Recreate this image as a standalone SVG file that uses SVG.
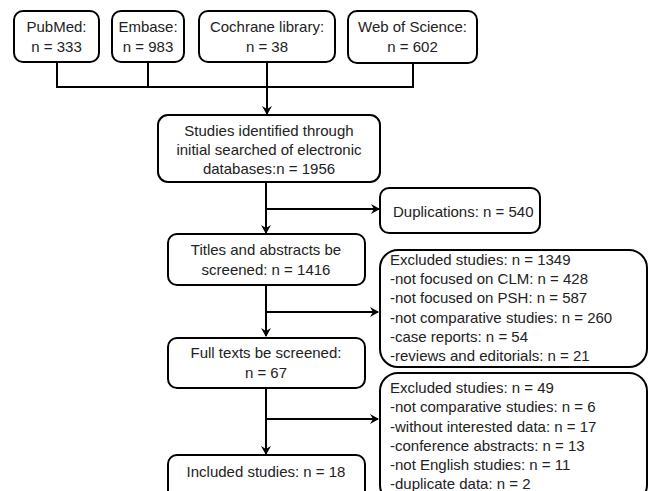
<svg xmlns="http://www.w3.org/2000/svg" width="651" height="491" viewBox="0 0 651 491">
<defs>
<style>
.box{fill:#fff;stroke:#000;stroke-width:2}
.t{font-family:"Liberation Sans",Arial,sans-serif;font-size:15px;fill:#222}
.c{text-anchor:middle}
.ln{fill:none;stroke:#000;stroke-width:2}
</style>
<marker id="ah" markerWidth="10" markerHeight="10" refX="8" refY="5" orient="auto" markerUnits="userSpaceOnUse">
<path d="M0,0 L9,5 L0,10 L3,5 Z" fill="#000"/>
</marker>
</defs>
<rect width="651" height="491" fill="#fff"/>
<g id="connectors">
<polyline class="ln" points="57,62 57,87 413,87 413,62"/>
<line class="ln" x1="148" y1="62" x2="148" y2="87"/>
<line class="ln" x1="267" y1="62" x2="267" y2="114" marker-end="url(#ah)"/>
<line class="ln" x1="266" y1="182" x2="266" y2="233" marker-end="url(#ah)"/>
<line class="ln" x1="266" y1="209" x2="379" y2="209" marker-end="url(#ah)"/>
<line class="ln" x1="266" y1="285" x2="266" y2="336" marker-end="url(#ah)"/>
<line class="ln" x1="266" y1="312" x2="378" y2="312" marker-end="url(#ah)"/>
<line class="ln" x1="266" y1="388" x2="266" y2="454" marker-end="url(#ah)"/>
<line class="ln" x1="266" y1="419" x2="378" y2="419" marker-end="url(#ah)"/>
</g>
<g id="pubmed"><rect class="box" x="14" y="11" width="85" height="51" rx="9"/>
<text class="t c" x="56.5" y="32">PubMed:</text><text class="t c" x="56.5" y="52">n = 333</text></g>
<g id="embase"><rect class="box" x="112" y="11" width="72" height="51" rx="9"/>
<text class="t c" x="148" y="32">Embase:</text><text class="t c" x="148" y="52">n = 983</text></g>
<g id="cochrane"><rect class="box" x="199" y="11" width="136" height="51" rx="9"/>
<text class="t c" x="267" y="32">Cochrane library:</text><text class="t c" x="267" y="52">n = 38</text></g>
<g id="wos"><rect class="box" x="348" y="11" width="129" height="52" rx="9"/>
<text class="t c" x="412.5" y="32">Web of Science:</text><text class="t c" x="412.5" y="52">n = 602</text></g>
<g id="identified"><rect class="box" x="158" y="115" width="222" height="67" rx="10"/>
<text class="t c" x="269" y="136">Studies identified through</text>
<text class="t c" x="269" y="155">initial searched of electronic</text>
<text class="t c" x="269" y="174">databases:n = 1956</text></g>
<g id="duplications"><rect class="box" x="380" y="188" width="160" height="45" rx="9"/>
<text class="t" x="393" y="217">Duplications: n = 540</text></g>
<g id="titles"><rect class="box" x="168" y="234" width="197" height="51" rx="9"/>
<text class="t c" x="266" y="255">Titles and abstracts be</text>
<text class="t c" x="266" y="275">screened: n = 1416</text></g>
<g id="excluded1"><rect class="box" x="380" y="250" width="267" height="117" rx="18"/>
<text class="t" x="390" y="265">Excluded studies: n = 1349</text>
<text class="t" x="390" y="284">-not focused on CLM: n = 428</text>
<text class="t" x="390" y="303">-not focused on PSH: n = 587</text>
<text class="t" x="390" y="323">-not comparative studies: n = 260</text>
<text class="t" x="390" y="342">-case reports: n = 54</text>
<text class="t" x="390" y="361">-reviews and editorials: n = 21</text></g>
<g id="fulltexts"><rect class="box" x="168" y="338" width="197" height="50" rx="9"/>
<text class="t c" x="266" y="358">Full texts be screened:</text>
<text class="t c" x="266" y="378">n = 67</text></g>
<g id="excluded2"><rect class="box" x="380" y="373" width="267" height="130" rx="18"/>
<text class="t" x="390" y="393">Excluded studies: n = 49</text>
<text class="t" x="390" y="412">-not comparative studies: n = 6</text>
<text class="t" x="390" y="432">-without interested data: n = 17</text>
<text class="t" x="390" y="451">-conference abstracts: n = 13</text>
<text class="t" x="390" y="470">-not English studies: n = 11</text>
<text class="t" x="390" y="489">-duplicate data: n = 2</text></g>
<g id="included"><rect class="box" x="168" y="455" width="197" height="60" rx="9"/>
<text class="t c" x="266" y="477">Included studies: n = 18</text></g>
</svg>
